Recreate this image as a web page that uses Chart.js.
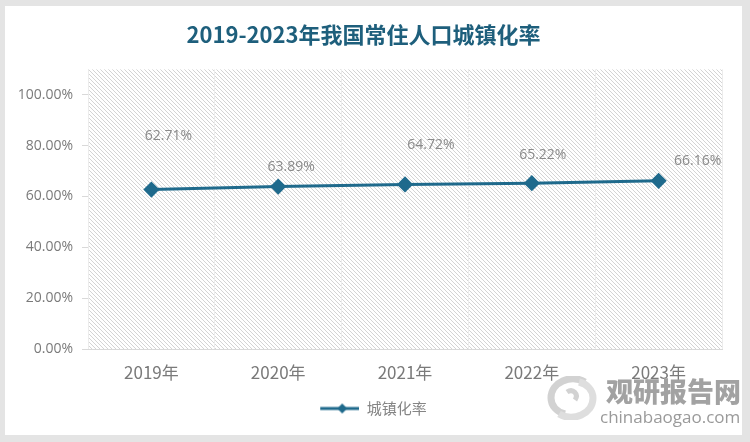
<!DOCTYPE html>
<html lang="zh">
<head>
  <meta charset="UTF-8">
  <title>2019-2023年我国常住人口城镇化率</title>
  <script src="https://cdn.jsdelivr.net/npm/chart.js"></script>
  <style>
    body {
      margin: 0;
      background: #e4e4e4;
      width: 750px;
      height: 442px;
      overflow: hidden;
      position: relative;
    }
    #card {
      position: absolute;
      left: 5px;
      top: 6px;
      width: 737px;
      height: 429px;
      background: #fff;
    }
    #mark {
      position: absolute;
      left: 545px;
      top: 372px;
      width: 200px;
      height: 60px;
      font-family: "Noto Sans CJK SC", sans-serif;
    }
    #mark svg {
      position: absolute;
      left: 0;
      top: 4px;
    }
    #mark .cn {
      position: absolute;
      left: 61px;
      top: -1px;
      font-size: 27px;
      font-weight: 900;
      color: #a2a2a2;
    }
    #mark .en {
      position: absolute;
      left: 55px;
      top: 33px;
      font-size: 17px;
      color: #9a9a9a;
      font-family: "Open Sans", sans-serif;
    }
  </style>
</head>
<body>
  <div id="card"><canvas id="chart" width="737" height="429"></canvas></div>
  <div id="mark">
    <svg width="54" height="44" viewBox="0 0 54 44">
      <path d="M40 6 C26 -2 6 6 6 22 C6 30 12 36 20 38" fill="none" stroke="#d2d2d2" stroke-width="7"/>
      <path d="M14 38 C28 46 48 38 48 22 C48 14 42 8 34 6" fill="none" stroke="#dedede" stroke-width="7"/>
      <path d="M22 16 C28 12 34 18 30 24" fill="none" stroke="#d2d2d2" stroke-width="5"/>
    </svg>
    <div class="cn">观研报告网</div>
    <div class="en">chinabaogao.com</div>
  </div>

  <script>
    const years = ["2019年", "2020年", "2021年", "2022年", "2023年"];
    const rate = [62.71, 63.89, 64.72, 65.22, 66.16]; // 城镇化率 %
    const seriesName = "城镇化率";
    const yTicks = [0, 20, 40, 60, 80, 100];

    // label offsets (px) relative to each point, like the hand-moved labels in the original
    const labelDx = [17, 13, 26, 11, 39];
    const labelDy = [-54, -20, -39, -28, -20];

    const lineColor = "#1f6a8c";

    // hatch pattern for plot area
    const pat = document.createElement("canvas");
    pat.width = 4; pat.height = 4;
    const pctx = pat.getContext("2d");
    pctx.strokeStyle = "#d4d4d4";
    pctx.lineWidth = 1;
    pctx.beginPath();
    pctx.moveTo(0, 0); pctx.lineTo(4, 4);
    pctx.moveTo(-1, 3); pctx.lineTo(1, 5);
    pctx.moveTo(3, -1); pctx.lineTo(5, 1);
    pctx.stroke();

    const hatch = {
      id: "hatch",
      beforeDraw(chart) {
        const a = chart.chartArea, ctx = chart.ctx;
        ctx.save();
        ctx.fillStyle = ctx.createPattern(pat, "repeat");
        ctx.fillRect(a.left, a.top, a.right - a.left, a.bottom - a.top);
        ctx.restore();
      }
    };

    const valueLabels = {
      id: "valueLabels",
      afterDatasetsDraw(chart) {
        const ctx = chart.ctx;
        const pts = chart.getDatasetMeta(0).data;
        ctx.save();
        ctx.font = "14px 'Open Sans', sans-serif";
        ctx.fillStyle = "#8a8a8a";
        ctx.textAlign = "center";
        ctx.textBaseline = "middle";
        pts.forEach((p, i) => {
          ctx.fillText(rate[i].toFixed(2) + "%", p.x + labelDx[i], p.y + labelDy[i]);
        });
        ctx.restore();
      }
    };

    // legend symbol: line with diamond (blank strip on the left nudges the legend right)
    const leg = document.createElement("canvas");
    leg.width = 59; leg.height = 12;
    const lctx = leg.getContext("2d");
    lctx.strokeStyle = lineColor;
    lctx.lineWidth = 3;
    lctx.beginPath(); lctx.moveTo(20, 6); lctx.lineTo(59, 6); lctx.stroke();
    lctx.fillStyle = lineColor;
    lctx.beginPath();
    lctx.moveTo(42, 1); lctx.lineTo(47, 6); lctx.lineTo(42, 11); lctx.lineTo(37, 6);
    lctx.closePath(); lctx.fill();

    new Chart(document.getElementById("chart"), {
      type: "line",
      data: {
        labels: years,
        datasets: [{
          label: seriesName,
          data: rate,
          borderColor: lineColor,
          backgroundColor: lineColor,
          borderWidth: 3,
          pointStyle: "rectRot",
          pointRadius: 6,
          pointHoverRadius: 6,
          fill: false,
          tension: 0
        }]
      },
      options: {
        responsive: false,
        animation: false,
        layout: { padding: { top: 0, left: 0, right: 20, bottom: 9 } },
        plugins: {
          title: {
            display: true,
            text: "2019-2023年我国常住人口城镇化率",
            color: "#1e5f7c",
            font: { family: "'Noto Sans CJK SC', sans-serif", size: 22, weight: "bold" },
            padding: { top: 15, bottom: 22 }
          },
          legend: {
            position: "bottom",
            labels: {
              color: "#858585",
              font: { family: "'Noto Sans CJK SC', sans-serif", size: 15 },
              usePointStyle: true,
              pointStyleWidth: 59,
              boxHeight: 12,
              padding: 6,
              generateLabels(chart) {
                const items = Chart.defaults.plugins.legend.labels.generateLabels(chart);
                items.forEach(it => { it.pointStyle = leg; });
                return items;
              }
            }
          },
          tooltip: { enabled: false }
        },
        scales: {
          x: {
            offset: true,
            grid: { offset: true, color: "#ececec", tickLength: 0 },
            border: { color: "#d9d9d9" },
            ticks: {
              color: "#7a7a7a",
              padding: 13,
              font: { family: "'Noto Sans CJK SC', sans-serif", size: 17 }
            },
            afterFit(scale) { scale.height = 46; }
          },
          y: {
            min: 0,
            max: 110,
            grid: { drawOnChartArea: false, tickLength: 6, color: "#d9d9d9" },
            border: { display: false },
            ticks: {
              stepSize: 20,
              padding: 9,
              color: "#7a7a7a",
              font: { family: "'Open Sans', sans-serif", size: 14 },
              callback(v) { return yTicks.includes(v) ? v.toFixed(2) + "%" : null; }
            },
            afterFit(scale) { scale.width = 83; }
          }
        }
      },
      plugins: [hatch, valueLabels]
    });
  </script>
</body>
</html>
